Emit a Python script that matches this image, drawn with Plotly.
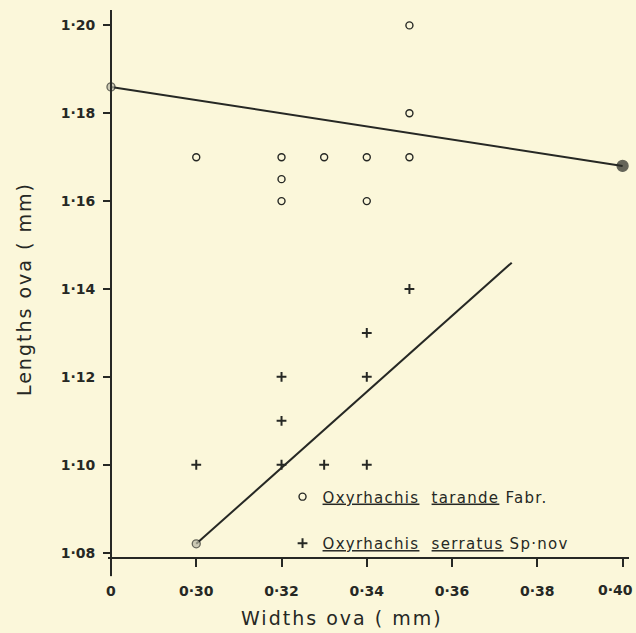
import plotly.graph_objects as go

# ---------------- data ----------------
x_tick_vals = [0.0, 0.30, 0.32, 0.34, 0.36, 0.38, 0.40]
x_tick_text = ["0", "0·30", "0·32", "0·34", "0·36", "0·38", "0·40"]
y_tick_vals = [1.08, 1.10, 1.12, 1.14, 1.16, 1.18, 1.20]
y_tick_text = ["1·08", "1·10", "1·12", "1·14", "1·16", "1·18", "1·20"]

tarande_x = [0.35, 0.35, 0.30, 0.32, 0.33, 0.34, 0.35, 0.32, 0.32, 0.34]
tarande_y = [1.20, 1.18, 1.17, 1.17, 1.17, 1.17, 1.17, 1.165, 1.16, 1.16]

serratus_x = [0.35, 0.34, 0.32, 0.34, 0.32, 0.30, 0.32, 0.33, 0.34]
serratus_y = [1.14, 1.13, 1.12, 1.12, 1.11, 1.10, 1.10, 1.10, 1.10]

line1_x = [0.0, 0.40]
line1_y = [1.186, 1.168]
line2_x = [0.30, 0.374]
line2_y = [1.082, 1.146]

# broken x axis: the origin "0" is drawn one interval left of 0.30
BREAK_POS = 0.28


def xpos(vals):
    return [BREAK_POS if v == 0 else v for v in vals]


INK = "#262824"
PAPER = "#fbf7da"
FONT = "DejaVu Sans"
TICKFONT = dict(family=FONT, size=14, color=INK, weight="bold")


def spaced(text, px):
    return f'<span style="letter-spacing:{px}px">{text}</span>'


fig = go.Figure()

fig.add_trace(go.Scatter(
    x=xpos(line1_x), y=line1_y, mode="lines+markers", cliponaxis=False,
    line=dict(color=INK, width=2),
    marker=dict(size=[8, 11], color=["#b9b8a6", INK],
                line=dict(color=INK, width=1.3)),
    showlegend=False, hoverinfo="skip"))

fig.add_trace(go.Scatter(
    x=xpos(line2_x), y=line2_y, mode="lines+markers", cliponaxis=False,
    line=dict(color=INK, width=2),
    marker=dict(size=[8, 0], color=["#b9b8a6", INK],
                line=dict(color=INK, width=1.3)),
    showlegend=False, hoverinfo="skip"))

fig.add_trace(go.Scatter(
    x=xpos(tarande_x), y=tarande_y, mode="markers", cliponaxis=False,
    name=spaced("<u>Oxyrhachis</u>  <u>tarande</u> Fabr.", 1.3),
    legendgroup="a",
    marker=dict(symbol="circle", size=7, color=PAPER,
                line=dict(color=INK, width=1.4))))

fig.add_trace(go.Scatter(
    x=xpos(serratus_x), y=serratus_y, mode="markers", cliponaxis=False,
    name=spaced("<u>Oxyrhachis</u>  <u>serratus</u> Sp·nov", 1.3),
    legendgroup="b",
    marker=dict(symbol="cross-thin", size=7,
                line=dict(color=INK, width=2))))

# y-axis overshoot below the x axis
fig.add_shape(type="line", xref="x", yref="paper",
              x0=BREAK_POS, x1=BREAK_POS, y0=-0.035, y1=0,
              line=dict(color=INK, width=2))

# last x tick label, right-aligned so it stays inside the page
fig.add_annotation(text=x_tick_text[-1], xref="x", yref="paper",
                   x=x_tick_vals[-1], y=-0.0603, xanchor="right",
                   yanchor="middle", xshift=12, showarrow=False,
                   font=TICKFONT)

fig.add_annotation(text=spaced("Lengths ova ( mm)", 2), xref="paper",
                   yref="paper", x=-0.161, y=0.49, textangle=-90,
                   showarrow=False, xanchor="center", yanchor="middle",
                   font=dict(family=FONT, size=19, color=INK))
fig.add_annotation(text=spaced("Widths ova ( mm)", 2), xref="paper",
                   yref="paper", x=0.449, y=-0.1115, showarrow=False,
                   xanchor="center", yanchor="middle",
                   font=dict(family=FONT, size=19, color=INK))

fig.update_layout(
    width=636, height=633,
    margin=dict(l=108, r=7, t=10, b=76, autoexpand=False),
    paper_bgcolor=PAPER, plot_bgcolor=PAPER,
    font=dict(family=FONT, color=INK),
    showlegend=True,
    legend=dict(x=0.335, y=0.14, xanchor="left", yanchor="top",
                bgcolor="rgba(0,0,0,0)", tracegroupgap=24,
                font=dict(family=FONT, size=15, color=INK)),
    xaxis=dict(range=[0.2793, 0.4015], tickvals=xpos(x_tick_vals),
               ticktext=x_tick_text[:-1] + [""], showgrid=False,
               zeroline=False, automargin=False,
               showline=True, linecolor=INK, linewidth=2,
               ticks="outside", ticklen=8, tickwidth=2, tickcolor=INK,
               ticklabelstandoff=12, tickfont=TICKFONT),
    yaxis=dict(range=[1.079, 1.2035], tickvals=y_tick_vals,
               ticktext=y_tick_text, showgrid=False, zeroline=False,
               automargin=False, anchor="free", position=0.0058,
               showline=True, linecolor=INK, linewidth=2,
               ticks="outside", ticklen=7, tickwidth=1.5, tickcolor=INK,
               ticklabelstandoff=5, tickfont=TICKFONT),
)

fig.write_html(
    "out.html",
    config={"displayModeBar": False},
    post_script=("document.body.style.margin='0px';"
                 "document.body.style.background='" + PAPER + "';"
                 "document.body.style.overflow='hidden';"))
